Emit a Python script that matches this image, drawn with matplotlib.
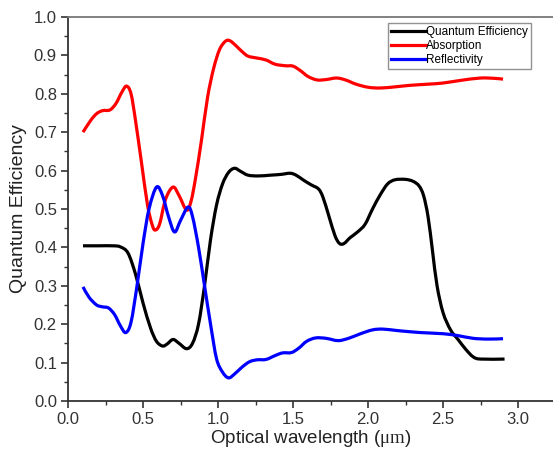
import matplotlib
matplotlib.use("Agg")
import matplotlib.pyplot as plt
import numpy as np
from matplotlib.ticker import MultipleLocator
from matplotlib.path import Path
from matplotlib.patches import PathPatch
from matplotlib.lines import Line2D

qe_x = [0.10, 0.20, 0.30, 0.35, 0.40, 0.45, 0.50, 0.55, 0.59, 0.63, 0.66, 0.70, 0.74, 0.79, 0.83, 0.87, 0.91, 0.95, 0.99, 1.03, 1.07, 1.11, 1.15, 1.20, 1.27, 1.35, 1.42, 1.48, 1.52, 1.57, 1.62, 1.67, 1.70, 1.74, 1.78, 1.81, 1.84, 1.88, 1.93, 1.98, 2.03, 2.08, 2.13, 2.18, 2.25, 2.30, 2.34, 2.37, 2.40, 2.43, 2.46, 2.50, 2.55, 2.60, 2.65, 2.70, 2.75, 2.91]
qe_y = [0.404, 0.404, 0.404, 0.401, 0.385, 0.33, 0.255, 0.19, 0.155, 0.143, 0.148, 0.160, 0.150, 0.136, 0.15, 0.20, 0.30, 0.42, 0.51, 0.565, 0.595, 0.606, 0.598, 0.588, 0.586, 0.588, 0.590, 0.593, 0.588, 0.575, 0.563, 0.552, 0.53, 0.48, 0.43, 0.41, 0.41, 0.425, 0.44, 0.46, 0.50, 0.536, 0.565, 0.576, 0.577, 0.572, 0.56, 0.535, 0.48, 0.39, 0.30, 0.23, 0.185, 0.16, 0.135, 0.115, 0.109, 0.109]

abs_x = [0.10, 0.15, 0.19, 0.23, 0.28, 0.32, 0.36, 0.39, 0.42, 0.45, 0.49, 0.53, 0.56, 0.58, 0.61, 0.65, 0.70, 0.74, 0.79, 0.82, 0.85, 0.89, 0.93, 0.97, 1.01, 1.05, 1.08, 1.12, 1.16, 1.20, 1.26, 1.32, 1.38, 1.45, 1.50, 1.55, 1.60, 1.66, 1.72, 1.79, 1.85, 1.92, 2.00, 2.08, 2.18, 2.28, 2.40, 2.50, 2.62, 2.75, 2.85, 2.90]
abs_y = [0.70, 0.73, 0.748, 0.756, 0.758, 0.775, 0.805, 0.82, 0.80, 0.73, 0.62, 0.51, 0.46, 0.445, 0.46, 0.525, 0.557, 0.535, 0.497, 0.52, 0.58, 0.68, 0.79, 0.865, 0.915, 0.937, 0.938, 0.925, 0.91, 0.898, 0.893, 0.888, 0.877, 0.873, 0.872, 0.86, 0.845, 0.836, 0.837, 0.841, 0.836, 0.825, 0.817, 0.815, 0.818, 0.822, 0.825, 0.828, 0.835, 0.841, 0.840, 0.838]

ref_x = [0.10, 0.14, 0.19, 0.23, 0.27, 0.31, 0.35, 0.385, 0.42, 0.46, 0.50, 0.54, 0.59, 0.63, 0.67, 0.71, 0.75, 0.80, 0.83, 0.87, 0.91, 0.95, 0.99, 1.03, 1.07, 1.11, 1.16, 1.21, 1.26, 1.32, 1.38, 1.43, 1.49, 1.54, 1.59, 1.65, 1.72, 1.80, 1.87, 1.95, 2.03, 2.10, 2.20, 2.35, 2.50, 2.60, 2.70, 2.80, 2.90]
ref_y = [0.297, 0.27, 0.25, 0.245, 0.242, 0.225, 0.195, 0.178, 0.205, 0.30, 0.41, 0.50, 0.557, 0.535, 0.48, 0.44, 0.47, 0.505, 0.48, 0.40, 0.30, 0.20, 0.11, 0.075, 0.06, 0.07, 0.088, 0.102, 0.107, 0.108, 0.118, 0.125, 0.126, 0.138, 0.155, 0.164, 0.163, 0.157, 0.163, 0.175, 0.185, 0.187, 0.183, 0.178, 0.175, 0.17, 0.163, 0.161, 0.162]

series = [
    ('Quantum Efficiency', qe_x, qe_y, 'black'),
    ('Absorption', abs_x, abs_y, '#ff0000'),
    ('Reflectivity', ref_x, ref_y, '#0000ff'),
]

plt.rcParams['font.family'] = ['Liberation Sans', 'DejaVu Sans']
plt.rcParams['mathtext.fontset'] = 'custom'
plt.rcParams['mathtext.rm'] = 'Liberation Serif'

fig = plt.figure(figsize=(5.53, 4.53), dpi=100)
ax = fig.add_axes([0.123, 0.115, 0.877, 0.8475])


def smooth_path(x, y):
    """Catmull-Rom style cubic Bezier path through the read points."""
    p = np.column_stack([x, y]).astype(float)
    n = len(p)
    verts = [p[0]]
    codes = [Path.MOVETO]
    for i in range(n - 1):
        p0 = p[i - 1] if i > 0 else p[i]
        p1 = p[i]
        p2 = p[i + 1]
        p3 = p[i + 2] if i + 2 < n else p[i + 1]
        c1 = p1 + (p2 - p0) / 6.0
        c2 = p2 - (p3 - p1) / 6.0
        verts += [c1, c2, p2]
        codes += [Path.CURVE4] * 3
    return Path(verts, codes)


lw = 2.3
handles = []
for name, xs, ys, col in series:
    patch = PathPatch(smooth_path(xs, ys), fill=False, edgecolor=col, lw=lw,
                      joinstyle='round', capstyle='butt')
    ax.add_patch(patch)
    handles.append(Line2D([], [], color=col, lw=lw, label=name))

ax.set_xlim(0, 3.233)
ax.set_ylim(0, 1.0)
ax.xaxis.set_major_locator(MultipleLocator(0.5))
ax.xaxis.set_minor_locator(MultipleLocator(0.25))
ax.yaxis.set_major_locator(MultipleLocator(0.1))
ax.yaxis.set_minor_locator(MultipleLocator(0.05))
ax.xaxis.set_major_formatter(plt.FuncFormatter(lambda v, p: f"{v:.1f}"))
ax.yaxis.set_major_formatter(plt.FuncFormatter(lambda v, p: f"{v:.1f}"))
ax.tick_params(which='major', direction='out', length=5, width=1.2, labelsize=12,
               colors='#333333', labelcolor='#333333', pad=3)
ax.tick_params(which='minor', direction='out', length=3, width=1.0, colors='#333333')
ax.spines['right'].set_visible(False)
for s in ['left', 'bottom']:
    ax.spines[s].set_color('#333333')
    ax.spines[s].set_linewidth(1.3)
ax.spines['top'].set_color('#777777')
ax.spines['top'].set_linewidth(1.3)

ax.set_ylabel('Quantum Efficiency', fontsize=14, color='#222222', labelpad=5)
ax.set_xlabel(r'Optical wavelength ($\mathrm{\mu m}$)', fontsize=13.5, color='#222222', labelpad=1)

leg = ax.legend(handles=handles, loc='upper right', bbox_to_anchor=(0.955, 0.985), fontsize=8.5,
                frameon=True, fancybox=False, handlelength=3.0, handletextpad=0.0,
                borderpad=0.25, labelspacing=0.2, borderaxespad=0.0)
leg.get_frame().set_edgecolor('#777777')
leg.get_frame().set_linewidth(1.0)

fig.savefig('out.png', dpi=100)
